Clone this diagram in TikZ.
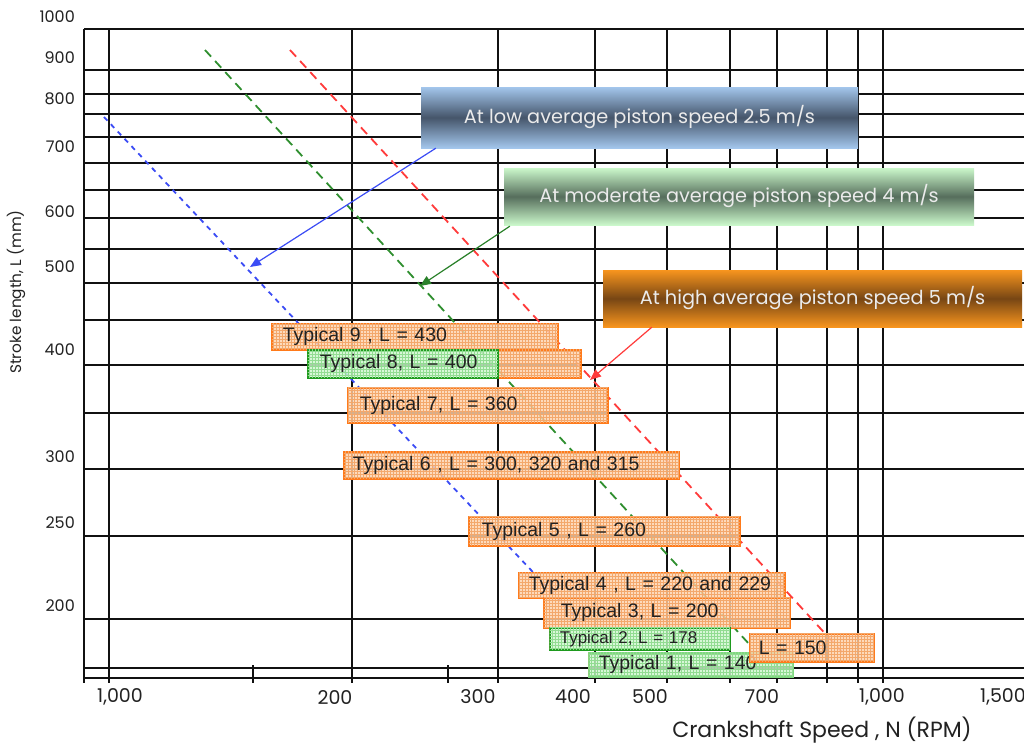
\documentclass[tikz,border=0pt]{standalone}
\usepackage{fontspec}
\setmainfont{Liberation Sans}
\newfontfamily\gothic{Poppins}
\usetikzlibrary{patterns,arrows.meta,calc}
\definecolor{gridc}{HTML}{111111}
\definecolor{boxorange}{HTML}{FF7A1A}
\definecolor{fillorange}{HTML}{FDD3AE}
\definecolor{patorange}{HTML}{F3A86C}
\definecolor{boxgreen}{HTML}{1E9A1E}
\definecolor{boxlgreen}{HTML}{7FD87F}
\definecolor{fillgreen}{HTML}{CFF6CF}
\definecolor{patgreen}{HTML}{92DC92}
\definecolor{cblueL}{HTML}{A3C6EC}
\definecolor{cblueD}{HTML}{45556A}
\definecolor{cgreenL}{HTML}{CBF8CB}
\definecolor{cgreenD}{HTML}{566E5C}
\definecolor{corL}{HTML}{F8951E}
\definecolor{corD}{HTML}{774614}
\definecolor{lblue}{HTML}{3B4CF5}
\definecolor{lgreen}{HTML}{2F8F2F}
\definecolor{lred}{HTML}{FF3B3B}
\definecolor{txt}{HTML}{222222}
\begin{document}
\begin{tikzpicture}[x=1pt,y=-1pt,
  gridline/.style={draw=gridc,line width=1.6pt},
  ticklab/.style={font=\gothic\fontsize{16}{17}\selectfont,text=txt,inner sep=0pt},
  ylab/.style={ticklab,anchor=east},
  xlab/.style={ticklab,anchor=center,font=\gothic\fontsize{19}{20}\selectfont},
  typbox/.style={draw=boxorange,line width=1.6pt,fill=fillorange,fill opacity=0.82,text opacity=1,
     postaction={pattern=grid,pattern color=patorange},
     anchor=north west,inner ysep=0pt,align=left,text=txt,
     font=\fontsize{19.5}{21}\selectfont},
  greenbox/.style={typbox,draw=boxgreen,fill=fillgreen,postaction={pattern=grid,pattern color=patgreen}},
  lgreenbox/.style={typbox,draw=boxlgreen,fill=fillgreen,postaction={pattern=grid,pattern color=patgreen}},
  callout/.style={inner sep=0pt,text=white!92!black,font=\gothic\fontsize{19.3}{21}\selectfont},
  speedline/.style={line width=1.8pt},
  pointer/.style={line width=1.2pt,-{Triangle[length=11pt,width=9pt]}}
]
\useasboundingbox (0,0) rectangle (1024,744);
\fill[white] (0,0) rectangle (1024,744);

% grid
\foreach \yy in {29,70,94,114,137,163,190,218,249,283,320,365,413,469,536,619,668,678}
  \draw[gridline] (84,\yy) -- (1024,\yy);
\foreach \xx in {84,109,352,498,595,667,730,777,827,858,883}
  {\draw[gridline] (\xx,29) -- (\xx,678);
   \draw[gridline] (\xx,678) -- (\xx,683);}
\foreach \xx in {253,448}
  \draw[gridline] (\xx,665) -- (\xx,683);

% y tick labels
\node[ylab] (y1000) at (75,17) {1000};
\node[ylab] (y900) at (75,58) {900};
\node[ylab] (y800) at (75,99) {800};
\node[ylab] (y700) at (75,147) {700};
\node[ylab] (y600) at (75,212) {600};
\node[ylab] (y500) at (75,267) {500};
\node[ylab] (y400) at (75,350) {400};
\node[ylab] (y300) at (75,457) {300};
\node[ylab] (y250) at (75,523) {250};
\node[ylab] (y200) at (75,606) {200};

% x tick labels
\node[xlab] (x100) at (120,697) {1,000};
\node[xlab] (x200) at (335,697) {200};
\node[xlab] (x300) at (478,697) {300};
\node[xlab] (x400) at (573,697) {400};
\node[xlab] (x500) at (650,697) {500};
\node[xlab] (x700) at (762,697) {700};
\node[xlab] (x1000) at (882,697) {1,000};
\node[xlab,anchor=west] (x1500) at (980,697) {1,500};

% axis titles
\node[ticklab,font=\gothic\fontsize{15.3}{16}\selectfont,rotate=90] (ytitle) at (16,292) {Stroke length, L (mm)};
\node[ticklab,font=\gothic\fontsize{22}{23}\selectfont] (xtitle) at (822,730) {Crankshaft Speed , N (RPM)};

% speed lines
\coordinate (b1) at (104,117); \coordinate (b2) at (580,622);
\coordinate (g1) at (205,50);  \coordinate (g2) at (750,645);
\coordinate (r1) at (290,50);  \coordinate (r2) at (842,652);
\draw[speedline,lblue,dash pattern=on 5pt off 5pt] (b1) -- (b2);
\draw[speedline,lgreen,dash pattern=on 9pt off 6pt] (g1) -- (g2);
\draw[speedline,lred,dash pattern=on 9pt off 6pt] (r1) -- (r2);

% typical boxes
\node[typbox,text width=264pt,inner xsep=11pt,minimum height=26pt] (t9) at (271,323) {Typical 9 , L = 430};
\node[typbox,text width=83pt,inner xsep=0pt,minimum height=28pt] (t8o) at (497,349) {};
\node[greenbox,text width=166pt,inner xsep=12pt,minimum height=28pt] (t8) at (307,349) {Typical 8, L = 400};
\node[typbox,text width=236pt,inner xsep=12pt,minimum height=35pt] (t7) at (347,387) {Typical 7, L = 360};
\node[typbox,text width=317pt,inner xsep=9pt,minimum height=27pt] (t6) at (343,451) {Typical 6 , L = 300, 320 and 315};
\node[typbox,text width=245pt,inner xsep=13pt,minimum height=29pt] (t5) at (468,516) {Typical 5 , L = 260};
\node[typbox,text width=246pt,inner xsep=10pt,minimum height=25pt] (t4) at (518,572) {Typical 4 , L = 220 and 229};
\node[typbox,text width=212pt,inner xsep=17pt,minimum height=30pt] (t3) at (543,597) {Typical 3, L = 200};
\node[greenbox,text width=160pt,inner xsep=10pt,minimum height=22pt,font=\fontsize{17}{18}\selectfont] (t2) at (549,627) {Typical 2, L = 178};
\node[lgreenbox,text width=184pt,inner xsep=10pt,minimum height=24pt] (t1) at (588,652) {Typical 1, L = 140};
\node[typbox,text width=106pt,inner xsep=9pt,minimum height=28pt] (t150) at (749,633) {L = 150};

% callouts
\node[callout,top color=cblueL,bottom color=cblueL,middle color=cblueD,minimum width=437pt,minimum height=61pt] (low) at (639.5,117.5) {At low average piston speed 2.5 m/s};
\node[callout,top color=cgreenL,bottom color=cgreenL,middle color=cgreenD,minimum width=470pt,minimum height=57pt] (mod) at (739,196.5) {At moderate average piston speed 4 m/s};
\node[callout,top color=corL,bottom color=corL,middle color=corD,minimum width=419pt,minimum height=57pt] (high) at (812.5,298.5) {At high average piston speed 5 m/s};

% pointers
\coordinate (pb) at (250,267);
\coordinate (pg) at (420,286);
\coordinate (pr) at (590,380);
\draw[pointer,lblue] ($(low.south west)+(15,0)$) -- (pb);
\draw[pointer,lgreen!90!black] ($(mod.south west)+(6,1)$) -- (pg);
\draw[pointer,lred] ($(high.south west)+(49,0)$) -- (pr);
\end{tikzpicture}
\end{document}
